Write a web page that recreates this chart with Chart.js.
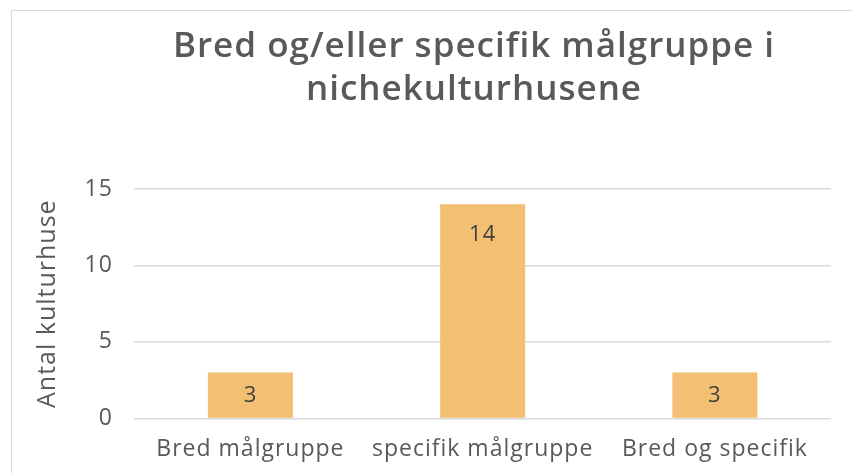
<!DOCTYPE html>
<html>
<head>
<meta charset="utf-8">
<script src="https://cdn.jsdelivr.net/npm/chart.js@4/dist/chart.umd.min.js"></script>
<style>
  html, body { margin: 0; padding: 0; background: #fff; overflow: hidden; }
  #wrap { position: relative; width: 852px; height: 473px; overflow: hidden; }
  #frame { position: absolute; left: 11px; top: 10px; width: 950px; height: 500px; border: 1px solid #d9d9d9; box-sizing: border-box; }
  canvas { position: absolute; left: 0; top: 0; }
</style>
</head>
<body>
<div id="wrap">
  <div id="frame"></div>
  <!-- the original chart box is wider than the picture, right part is cut off -->
  <canvas id="myChart" width="948" height="473"></canvas>
</div>
<script>
// data
const categories = ['Bred målgruppe', 'specifik målgruppe', 'Bred og specifik'];
const values = [3, 14, 3];
const yTicks = [0, 5, 10, 15];
const titleLines = ['Bred og/eller specifik målgruppe i', 'nichekulturhusene'];

const textGrey = '#595959';
const fontFam = '"Open Sans", sans-serif';

// a bit of letter spacing, the original font is wide
const spacing = {
    id: 'spacing',
    beforeUpdate(chart) { chart.ctx.letterSpacing = '1px'; },
    beforeDraw(chart) { chart.ctx.letterSpacing = '1px'; }
};

// title centred on the whole (cut off) chart box
const bigTitle = {
    id: 'bigTitle',
    afterDraw(chart) {
        const ctx = chart.ctx;
        ctx.save();
        ctx.font = '600 35px ' + fontFam;
        ctx.fillStyle = textGrey;
        ctx.textAlign = 'center';
        ctx.textBaseline = 'middle';
        titleLines.forEach((line, i) => {
            ctx.fillText(line, chart.width / 2, 47 + i * 43.5);
        });
        ctx.restore();
    }
};

// value labels inside the top of each bar
const barLabels = {
    id: 'barLabels',
    afterDatasetsDraw(chart) {
        const ctx = chart.ctx;
        const meta = chart.getDatasetMeta(0);
        ctx.save();
        ctx.font = '22px ' + fontFam;
        ctx.fillStyle = '#404040';
        ctx.textAlign = 'center';
        ctx.textBaseline = 'middle';
        meta.data.forEach((bar, i) => {
            let y = Math.min(bar.y + 30, (bar.y + bar.base) / 2 + 1);
            ctx.fillText(String(values[i]), bar.x, y);
        });
        ctx.restore();
    }
};

let chartElem = document.getElementById('myChart').getContext('2d');

let chart = new Chart(chartElem, {
    type: 'bar',
    data: {
        labels: categories,
        datasets: [{
            data: values,
            backgroundColor: '#F3BF73',
            borderWidth: 0,
            categoryPercentage: 1,
            barPercentage: 0.366
        }]
    },
    options: {
        responsive: false,
        animation: false,
        layout: { padding: { left: 33, right: 117, top: 189, bottom: -7 } },
        plugins: {
            legend: { display: false },
            tooltip: { enabled: false },
            title: { display: false }
        },
        scales: {
            x: {
                grid: { display: false, drawTicks: false },
                border: { display: false },
                ticks: { color: textGrey, font: { family: fontFam, size: 23 }, padding: 17, maxRotation: 0 }
            },
            y: {
                min: 0,
                max: 15,
                afterBuildTicks: axis => { axis.ticks = yTicks.map(v => ({ value: v })); },
                grid: { color: '#d9d9d9', lineWidth: 1.5, drawTicks: false },
                border: { display: false },
                ticks: { color: textGrey, font: { family: fontFam, size: 23 }, padding: 21.5 },
                title: {
                    display: true,
                    text: 'Antal kulturhuse',
                    color: textGrey,
                    font: { family: fontFam, size: 25 },
                    padding: { top: 0, bottom: 0 }
                }
            }
        }
    },
    plugins: [spacing, bigTitle, barLabels]
});
</script>
</body>
</html>
